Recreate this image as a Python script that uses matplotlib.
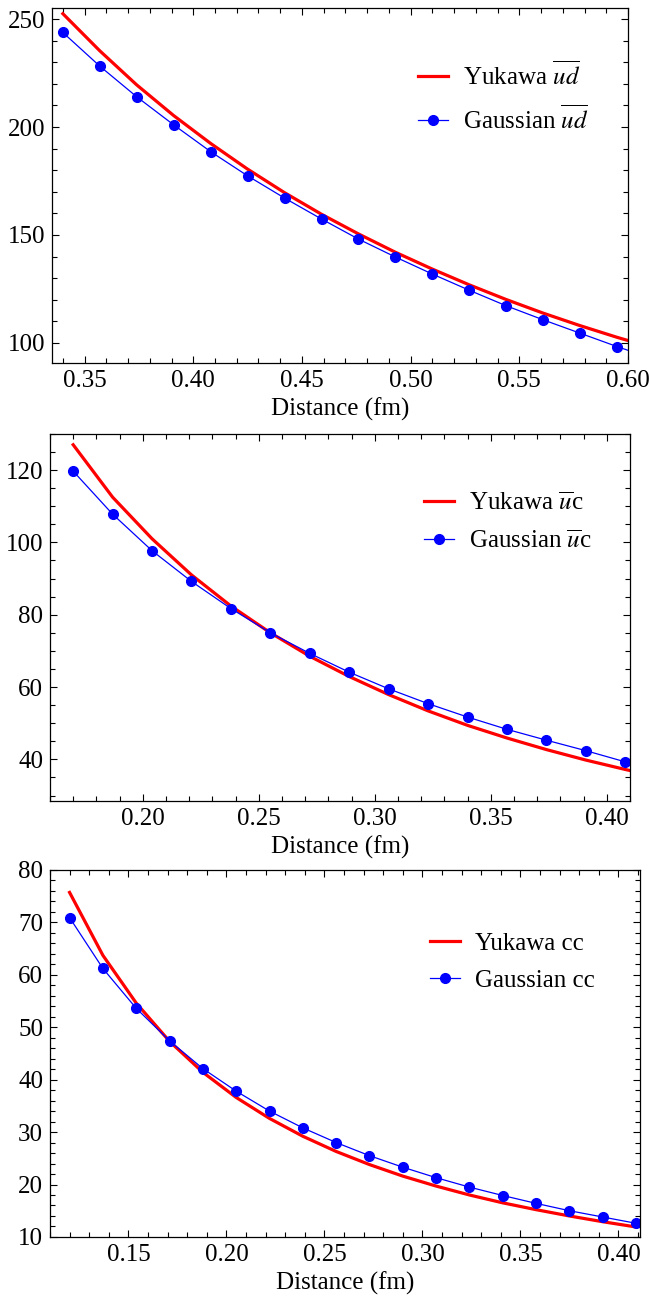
import matplotlib
matplotlib.use("Agg")
import matplotlib.pyplot as plt
from matplotlib.ticker import MultipleLocator

plt.rcParams['font.family'] = ['Liberation Serif', 'DejaVu Serif']
plt.rcParams['mathtext.fontset'] = 'stix'
plt.rcParams['font.size'] = 18

# ---- data ----
# ud channel
x_ud = [0.340, 0.357, 0.374, 0.391, 0.408, 0.425, 0.442, 0.459, 0.476,
        0.493, 0.510, 0.527, 0.544, 0.561, 0.578, 0.595, 0.612]
yuk_ud = [252.5, 235.3, 219.5, 205.3, 192.4, 180.5, 169.6, 159.6, 150.5,
          142.0, 134.2, 126.9, 120.1, 113.8, 108.0, 102.6, 97.6]
gau_ud = [243.8, 228.2, 214.0, 201.0, 188.6, 177.4, 167.1, 157.4, 148.1,
          139.8, 131.9, 124.4, 117.2, 110.7, 104.5, 98.3, 92.5]

# uc channel
x_uc = [0.170, 0.187, 0.204, 0.221, 0.238, 0.255, 0.272, 0.289, 0.306,
        0.323, 0.340, 0.357, 0.374, 0.391, 0.408, 0.425]
yuk_uc = [127.0, 112.5, 101.0, 91.0, 82.4, 75.0, 68.5, 62.9, 57.9,
          53.4, 49.4, 45.9, 42.7, 39.8, 37.2, 34.8]
gau_uc = [119.7, 107.8, 97.7, 89.2, 81.7, 75.0, 69.3, 64.1, 59.5,
          55.4, 51.7, 48.3, 45.3, 42.4, 39.3, 36.8]

# cc channel
x_cc = [0.120, 0.137, 0.154, 0.171, 0.188, 0.205, 0.222, 0.239, 0.256,
        0.273, 0.290, 0.307, 0.324, 0.341, 0.358, 0.375, 0.392, 0.409]
yuk_cc = [75.7, 63.7, 54.6, 47.3, 41.4, 36.6, 32.6, 29.2, 26.3,
          23.8, 21.6, 19.7, 18.0, 16.5, 15.2, 14.0, 12.9, 11.9]
gau_cc = [70.9, 61.2, 53.6, 47.4, 42.1, 37.8, 34.0, 30.8, 28.0,
          25.5, 23.3, 21.3, 19.5, 17.9, 16.4, 15.0, 13.8, 12.6]

panels = [
    dict(x=x_ud, yuk=yuk_ud, gau=gau_ud, lab=r'$\overline{ud}$',
         rect=[0.0801, 0.7214, 0.8875, 0.2724], xlim=(0.335, 0.60), ylim=(90.7, 255.1),
         xmaj=0.05, ymaj=50, ymin=10, leg=(0.635, 0.749)),
    dict(x=x_uc, yuk=yuk_uc, gau=gau_uc, lab=r'$\overline{u}$c',
         rect=[0.0770, 0.3853, 0.8937, 0.2817], xlim=(0.16, 0.41), ylim=(28.5, 130),
         xmaj=0.05, ymaj=20, ymin=5, leg=(0.645, 0.760)),
    dict(x=x_cc, yuk=yuk_cc, gau=gau_cc, lab='cc',
         rect=[0.0770, 0.0507, 0.9091, 0.2817], xlim=(0.11, 0.411), ylim=(10, 80),
         xmaj=0.05, ymaj=10, ymin=2, leg=(0.644, 0.749)),
]

fig = plt.figure(figsize=(6.49, 13.03), dpi=100)

for p in panels:
    ax = fig.add_axes(p['rect'])
    ax.plot(p['x'], p['yuk'], color='#ff0000', lw=2.3, label='Yukawa ' + p['lab'])
    ax.plot(p['x'], p['gau'], color='#0000ff', lw=0.9, marker='o', ms=7,
            label='Gaussian ' + p['lab'])
    ax.set_xlim(*p['xlim'])
    ax.set_ylim(*p['ylim'])
    ax.xaxis.set_major_locator(MultipleLocator(p['xmaj']))
    ax.xaxis.set_minor_locator(MultipleLocator(0.01))
    ax.yaxis.set_major_locator(MultipleLocator(p['ymaj']))
    ax.yaxis.set_minor_locator(MultipleLocator(p['ymin']))
    ax.xaxis.set_major_formatter(plt.FormatStrFormatter('%.2f'))
    ax.tick_params(which='both', direction='in', top=True, right=True, width=0.8)
    ax.tick_params(which='major', length=5, pad=5)
    ax.tick_params(which='minor', length=3.5)
    for s in ax.spines.values():
        s.set_linewidth(0.9)
    ax.set_xlabel('Distance (fm)', labelpad=4)
    ax.legend(loc='center left', bbox_to_anchor=p['leg'], frameon=False,
              borderpad=0, borderaxespad=0, handlelength=1.2, handletextpad=0.6,
              labelspacing=0.6)

fig.savefig('out.png', dpi=100)
